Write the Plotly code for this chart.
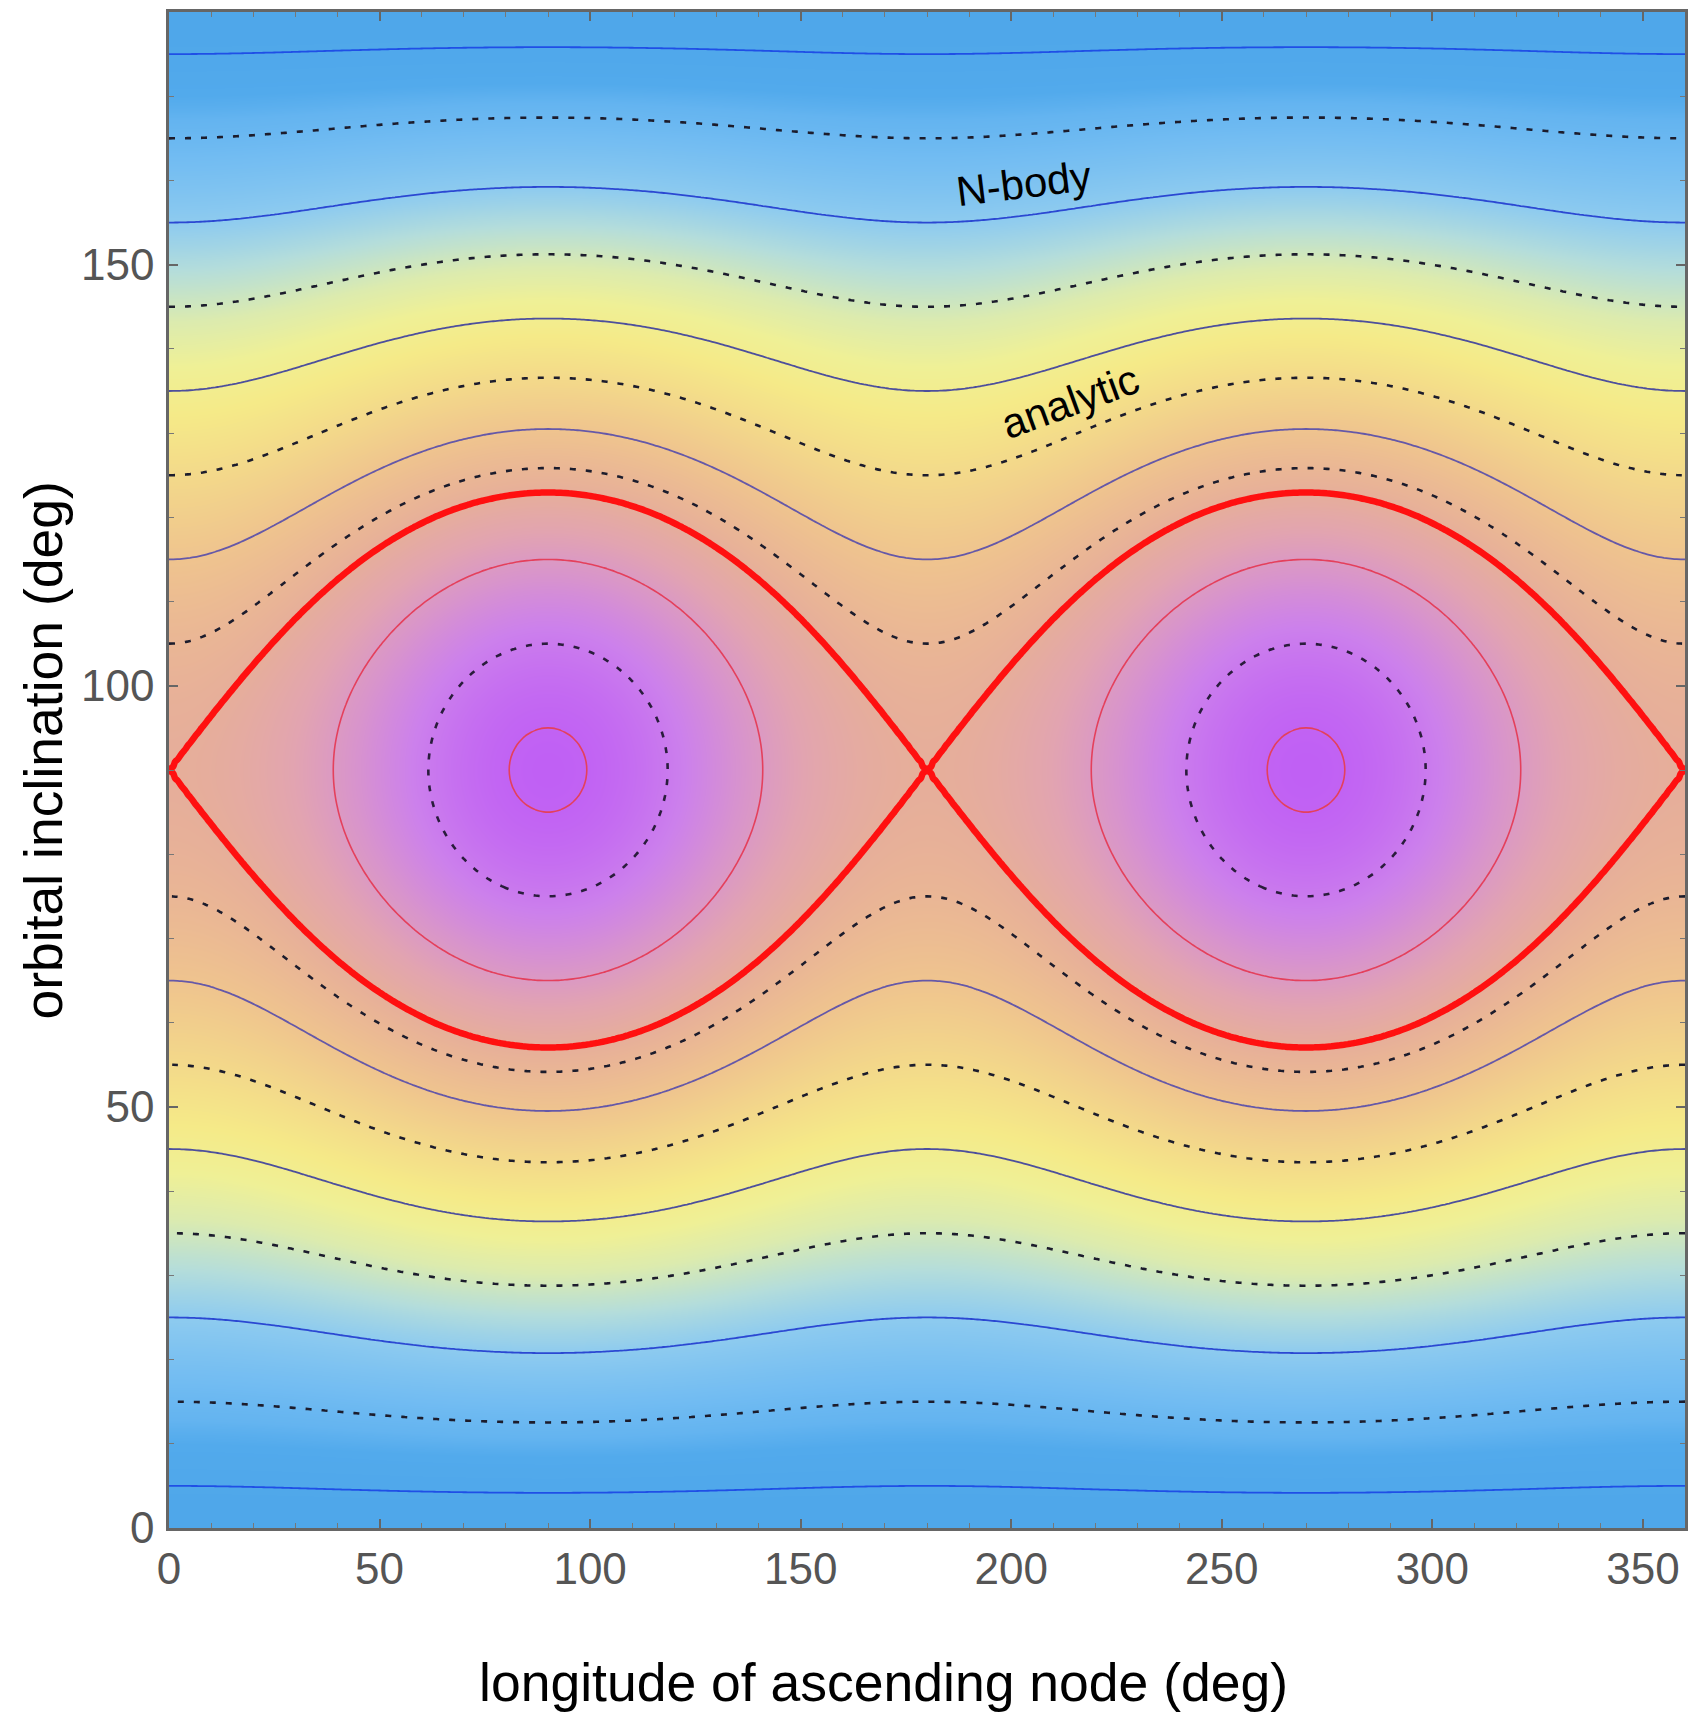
import numpy as np
import plotly.graph_objects as go

# ---- data -------------------------------------------------------------------
# model field: H(node, incl) = sin^2(i) * (1 + k sin^2(node)); k read from the
# separatrix half-height (i = 57 deg at node = 90 deg)
k_coupling = 0.42

# N-body (solid) and analytic (dashed) trajectories, labelled by the
# inclination they have at node = 0 deg (outer, circulating)
solid_outer_incl = [5, 25, 45, 65]
dashed_outer_incl = [15, 35, 55, 75]
solid_outer_colors = ["#1f4fe6", "#2b48d2", "#4d4f9c", "#6558a8"]

# librating trajectories, labelled by inclination at node = 90 deg
solid_inner_incl = [65, 85]
dashed_inner_incl = [75]

x_ticks = [0, 50, 100, 150, 200, 250, 300, 350]
y_ticks = [0, 50, 100, 150]

# background colour scale keyed on H
color_stops_h = [0.0, 0.03, 0.05, 0.09, 0.18, 0.26, 0.36, 0.45, 0.55, 0.68,
                 0.82, 0.95, 1.0, 1.1, 1.2, 1.3, 1.42]
color_stops_c = ["#4fa7ea", "#52aaec", "#64b4f0", "#72bcf2", "#8ecbef",
                 "#b4dddb", "#dcebae", "#eff096", "#f5ea88", "#f3d88a",
                 "#efc48e", "#e9b496", "#e6ae9a", "#e2a4b0", "#d894cc",
                 "#cc80ec", "#c060f4"]

# ---- field ------------------------------------------------------------------
def field(step):
    lon = np.arange(0, 360 + step / 2, step)
    inc = np.arange(0, 180 + step / 2, step)
    L, I = np.meshgrid(np.radians(lon), np.radians(inc))
    H = np.sin(I) ** 2 * (1 + k_coupling * np.sin(L) ** 2)
    return lon, inc, H.astype(np.float32)

lon_f, inc_f, H_f = field(0.5)
lon_c, inc_c, H_c = field(1.0)

hmax = 1 + k_coupling
cscale = [[h / hmax, c] for h, c in zip(color_stops_h, color_stops_c)]

fig = go.Figure()
fig.add_trace(go.Heatmap(x=lon_f, y=inc_f, z=H_f, colorscale=cscale,
                         zmin=0, zmax=hmax, showscale=False, zsmooth="best",
                         hoverinfo="skip"))


def add_level(level, color, width, dash="solid"):
    fig.add_trace(go.Contour(
        x=lon_c, y=inc_c, z=H_c, showscale=False, hoverinfo="skip",
        contours=dict(coloring="none", start=level, end=level, size=1,
                      showlabels=False),
        line=dict(color=color, width=width, dash=dash, smoothing=1)))


DASH = "6px,10px"
for inc, col in zip(solid_outer_incl, solid_outer_colors):
    add_level(float(np.sin(np.radians(inc)) ** 2), col, 1.8)
for inc in dashed_outer_incl:
    add_level(float(np.sin(np.radians(inc)) ** 2), "#1c1c2c", 2.6, DASH)
for inc in solid_inner_incl:
    add_level(float(hmax * np.sin(np.radians(inc)) ** 2), "#e4405c", 1.6)
for inc in dashed_inner_incl:
    add_level(float(hmax * np.sin(np.radians(inc)) ** 2), "#2a1c3c", 2.6, DASH)
# separatrix
add_level(1.0000001, "#ff1010", 6.5)

# ---- layout -----------------------------------------------------------------
FONT = "Liberation Sans, Arial, Helvetica, sans-serif"
axis_common = dict(
    ticks="inside", ticklen=9, tickwidth=1.5, tickcolor="#666",
    showline=True, linecolor="#666", linewidth=2.5, mirror="allticks",
    showgrid=False, zeroline=False, automargin=False,
    tickfont=dict(family=FONT, size=44, color="#555"),
    minor=dict(ticks="inside", dtick=10, ticklen=5, tickwidth=1.2,
               tickcolor="#777", showgrid=False),
)
fig.update_xaxes(range=[0, 360], tickvals=x_ticks, ticklabelstandoff=0,
                 **axis_common)
fig.update_yaxes(range=[0, 180], tickvals=y_ticks, ticklabelstandoff=3,
                 **axis_common)

fig.update_layout(
    width=1688, height=1715,
    margin=dict(l=169, r=3, t=12, b=187, autoexpand=False),
    paper_bgcolor="white", plot_bgcolor="white", showlegend=False,
    font=dict(family=FONT),
    annotations=[
        dict(text="N-body", x=203, y=159.6, xref="x", yref="y",
             showarrow=False, textangle=-7,
             font=dict(family=FONT, size=42, color="black")),
        dict(text="analytic", x=214, y=133.7, xref="x", yref="y",
             showarrow=False, textangle=-20,
             font=dict(family=FONT, size=42, color="black")),
        dict(text="longitude of ascending node (deg)", x=0.4716, y=-0.1016,
             xref="paper", yref="paper", showarrow=False,
             xanchor="center", yanchor="middle",
             font=dict(family=FONT, size=53.5, color="black")),
        dict(text="orbital inclination (deg)", x=-0.083, y=0.513,
             xref="paper", yref="paper", showarrow=False, textangle=-90,
             xanchor="center", yanchor="middle",
             font=dict(family=FONT, size=53.5, color="black")),
    ],
)

fig.write_html("out.html",
               config={"displayModeBar": False},
               post_script="document.body.style.margin='0';"
                           "document.body.style.overflow='hidden';")
